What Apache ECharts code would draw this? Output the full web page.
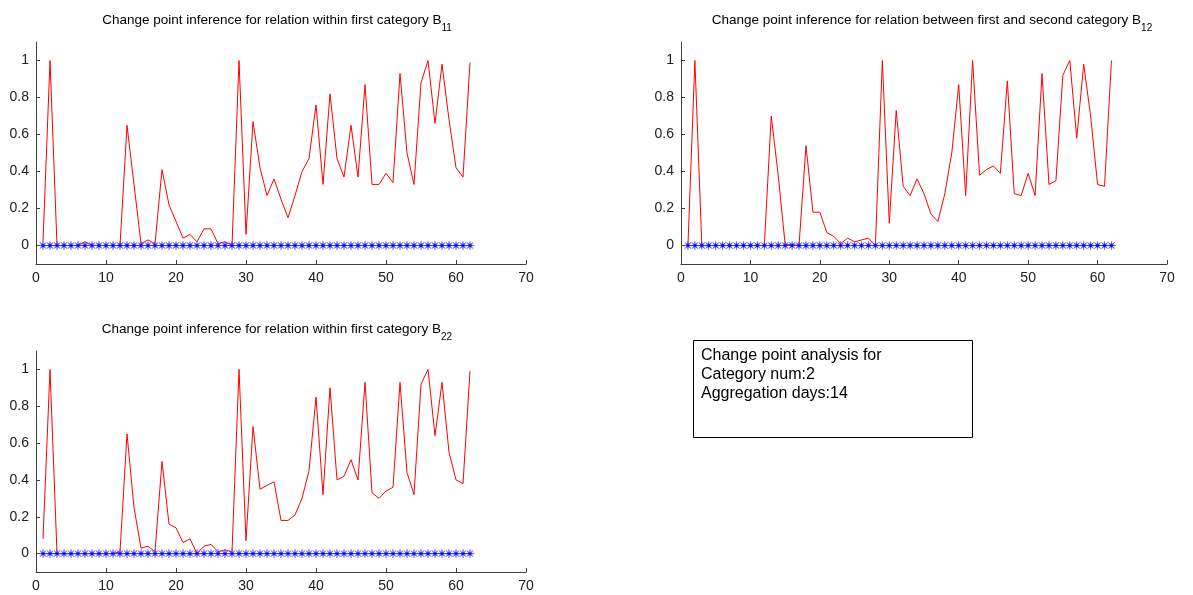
<!DOCTYPE html>
<html><head><meta charset="utf-8">
<script src="https://cdn.jsdelivr.net/npm/echarts@6/dist/echarts.min.js"></script>
<style>html,body{margin:0;padding:0;background:#fff}#c{width:1193px;height:595px}</style>
</head><body><div id="c"></div>
<script>
const days = [1,2,3,4,5,6,7,8,9,10,11,12,13,14,15,16,17,18,19,20,21,22,23,24,25,26,27,28,29,30,31,32,33,34,35,36,37,38,39,40,41,42,43,44,45,46,47,48,49,50,51,52,53,54,55,56,57,58,59,60,61,62];
const b11 = [0.02,1.0,0,0,0,0,0.02,0,0,0,0,0,0.65,0.33,0.01,0.03,0.01,0.41,0.22,0.13,0.04,0.06,0.02,0.09,0.09,0.01,0.02,0.0,1.0,0.06,0.67,0.42,0.27,0.36,0.25,0.15,0.27,0.40,0.47,0.76,0.33,0.82,0.47,0.37,0.65,0.37,0.87,0.33,0.33,0.39,0.34,0.93,0.50,0.33,0.88,1.0,0.66,0.98,0.68,0.42,0.37,0.99];
const b12 = [0.0,1.0,0,0,0,0,0,0,0,0,0,0,0.70,0.38,0.005,0.005,0.0,0.54,0.18,0.18,0.07,0.05,0.01,0.04,0.02,0.03,0.04,0.0,1.0,0.12,0.73,0.32,0.27,0.36,0.28,0.17,0.13,0.28,0.50,0.87,0.27,1.0,0.38,0.41,0.43,0.39,0.89,0.28,0.27,0.39,0.27,0.93,0.33,0.35,0.92,1.0,0.58,0.98,0.70,0.33,0.32,1.0];
const b22 = [0.08,1.0,0,0,0,0,0,0,0,0,0,0.01,0.65,0.25,0.03,0.04,0.01,0.50,0.16,0.14,0.06,0.08,0.0,0.04,0.05,0.01,0.02,0.01,1.0,0.07,0.69,0.35,0.37,0.39,0.18,0.18,0.21,0.30,0.45,0.85,0.32,0.90,0.40,0.42,0.51,0.40,0.93,0.33,0.30,0.34,0.36,0.93,0.44,0.32,0.92,1.0,0.64,0.93,0.55,0.40,0.38,0.99];
const changePoints = [0,0,0,0,0,0,0,0,0,0,0,0,0,0,0,0,0,0,0,0,0,0,0,0,0,0,0,0,0,0,0,0,0,0,0,0,0,0,0,0,0,0,0,0,0,0,0,0,0,0,0,0,0,0,0,0,0,0,0,0,0,0];
const xTicks = [0,10,20,30,40,50,60,70];
const yTicks = [0,0.2,0.4,0.6,0.8,1];
const titleTexts = ['Change point inference for relation within first category B','Change point inference for relation between first and second category B','Change point inference for relation within first category B'];
const titleSubs = ['11','12','22'];
const infoLines = ['Change point analysis for','Category num:2','Aggregation days:14'];

const FONT = '"Liberation Sans", Arial, Helvetica, sans-serif';
function starPath(){
  const pts=[];const n=8, R=10, r=2.8;
  for(let i=0;i<2*n;i++){const a=Math.PI*i/n - Math.PI/2; const rad=i%2===0?R:r; pts.push((rad*Math.cos(a)).toFixed(2)+','+(rad*Math.sin(a)).toFixed(2));}
  return 'path://M'+pts.join('L')+'Z';
}
const STAR = starPath();

const grids = [
  {left:36, top:42, width:490, height:222},
  {left:681, top:42, width:486, height:222},
  {left:36, top:351, width:490, height:221}
];
const seriesVals = [b11,b12,b22];
const titleCenters = [[272,8],[927,8],[272,317]];

const xAxes = grids.map((g,i)=>({
  type:'value', gridIndex:i, min:0, max:70, interval:10,
  axisLine:{show:true, onZero:false, lineStyle:{color:'#404040', width:1}},
  axisTick:{show:true, inside:true, length:4, lineStyle:{color:'#404040'}},
  axisLabel:{color:'#202020', fontSize:14, fontFamily:FONT, margin:7, customValues:xTicks},
  splitLine:{show:false}
}));
const yAxes = grids.map((g,i)=>({
  type:'value', gridIndex:i, min:-0.1, max:1.1,
  axisLine:{show:true, onZero:false, lineStyle:{color:'#404040', width:1}},
  axisTick:{show:true, inside:true, length:4, lineStyle:{color:'#404040'}, customValues:yTicks},
  axisLabel:{color:'#202020', fontSize:14, fontFamily:FONT, margin:7, customValues:yTicks, formatter:v=>String(+v.toFixed(1))},
  splitLine:{show:false}
}));
const series = [];
seriesVals.forEach((vals,i)=>{
  series.push({type:'line', xAxisIndex:i, yAxisIndex:i, data:days.map((d,k)=>[d,vals[k]]),
    showSymbol:false, symbol:'none', lineStyle:{color:'#ff0000', width:1}, z:2});
  series.push({type:'line', xAxisIndex:i, yAxisIndex:i, data:days.map((d,k)=>[d,changePoints[k]]),
    symbol:STAR, symbolSize:9, itemStyle:{color:'#0000ff', borderColor:'rgba(90,90,255,0.45)', borderWidth:0.8},
    lineStyle:{color:'#0000ff', width:1}, z:3});
});
const titles = titleTexts.map((t,i)=>({
  text:'{m|'+t+'}{s|'+titleSubs[i]+'}', left:titleCenters[i][0], top:titleCenters[i][1], textAlign:'center',
  textStyle:{fontSize:13.5, fontWeight:'normal', color:'#000', fontFamily:FONT,
    rich:{m:{fontSize:13.5, fontFamily:FONT, color:'#000', lineHeight:18, verticalAlign:'top'},
          s:{fontSize:10, fontFamily:FONT, color:'#000', lineHeight:11, verticalAlign:'top', padding:[10,0,0,0]}}}
}));
const chart = echarts.init(document.getElementById('c'), null, {renderer:'canvas'});
chart.setOption({
  animation:false, backgroundColor:'#fff',
  title:titles, grid:grids, xAxis:xAxes, yAxis:yAxes, series:series,
  graphic:[{type:'group', children:[
    {type:'rect', shape:{x:693.5,y:340.5,width:279,height:97}, style:{fill:'#fff', stroke:'#000', lineWidth:1}},
    {type:'text', x:701, y:346, style:{text:infoLines.join('\n'), font:'16px '+FONT, lineHeight:19, fill:'#000'}}
  ]}]
});
</script></body></html>
